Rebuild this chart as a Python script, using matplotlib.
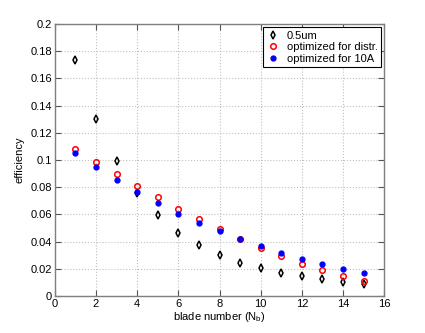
import numpy as np
import matplotlib
matplotlib.use("Agg")
import matplotlib.pyplot as plt

# blade number and efficiency values
blades = [1, 2, 3, 4, 5, 6, 7, 8, 9, 10, 11, 12, 13, 14, 15]
eff_05um = [0.1735, 0.1304, 0.099, 0.076, 0.0593, 0.0466, 0.0373, 0.0301,
            0.0245, 0.0204, 0.0169, 0.0145, 0.0123, 0.0105, 0.009]
eff_distr = [0.108, 0.0988, 0.090, 0.0809, 0.0725, 0.0642, 0.0564, 0.049,
             0.0419, 0.035, 0.0292, 0.0235, 0.0189, 0.0149, 0.011]
eff_10A = [0.1054, 0.0951, 0.0853, 0.0767, 0.0684, 0.0605, 0.0539, 0.0476,
           0.0419, 0.0365, 0.0316, 0.0274, 0.0235, 0.0199, 0.0167]

xticks = [0, 2, 4, 6, 8, 10, 12, 14, 16]
yticks = [0, 0.02, 0.04, 0.06, 0.08, 0.1, 0.12, 0.14, 0.16, 0.18, 0.2]
ytick_labels = ["0", "0.02", "0.04", "0.06", "0.08", "0.1", "0.12", "0.14",
                "0.16", "0.18", "0.2"]

plt.rcParams['font.family'] = ['Liberation Sans', 'DejaVu Sans']
plt.rcParams['font.size'] = 8

fig = plt.figure(figsize=(4.25, 3.33), dpi=100)
ax = fig.add_axes([0.129, 0.111, 0.775, 0.817])

ax.plot(blades, eff_05um, linestyle='none', marker='d', markersize=4,
        markerfacecolor='none', markeredgecolor='black', markeredgewidth=1.1,
        label='0.5um')
ax.plot(blades, eff_distr, linestyle='none', marker='o', markersize=4,
        markerfacecolor='none', markeredgecolor='red', markeredgewidth=1.1,
        label='optimized for distr.')
ax.plot(blades, eff_10A, linestyle='none', marker='o', markersize=3.5,
        markerfacecolor='blue', markeredgecolor='blue',
        label='optimized for 10A')

ax.set_xlim(0, 16)
ax.set_ylim(0, 0.2)
ax.set_xticks(xticks)
ax.set_yticks(yticks)
ax.set_yticklabels(ytick_labels)

ax.grid(True, linestyle=':', color='#c0c0c0', linewidth=0.8)
ax.tick_params(direction='in', top=True, right=True, length=4,
               color='#555555', labelsize=8, pad=2)
for s in ax.spines.values():
    s.set_color('#7f7f7f')
    s.set_linewidth(1.0)

ax.set_xlabel('blade number (N$_\\mathregular{b}$)', fontsize=8, labelpad=1)
ax.set_ylabel('efficiency', fontsize=8, labelpad=4)

leg = ax.legend(loc='upper right', fancybox=False, framealpha=1,
                edgecolor='black', fontsize=8, handlelength=1.2,
                handletextpad=0.6, borderpad=0.3, labelspacing=0.15,
                borderaxespad=0.3)
leg.get_frame().set_linewidth(0.8)

fig.savefig('out.png', dpi=100)
